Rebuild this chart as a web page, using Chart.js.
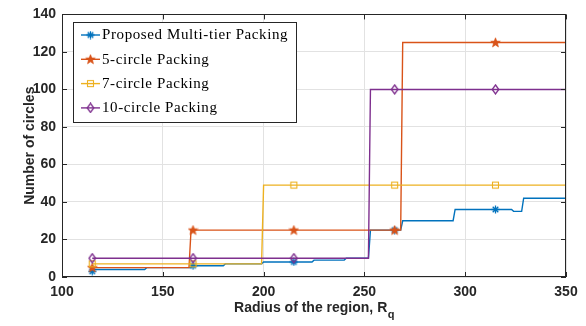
<!DOCTYPE html>
<html><head><meta charset="utf-8">
<script src="https://cdn.jsdelivr.net/npm/chart.js@4"></script>
<style>html,body{margin:0;padding:0;background:#fff}#wrap{width:586px;height:326px;position:relative}</style>
</head><body><div id="wrap"><canvas id="c" width="586" height="326"></canvas></div>
<script>
// ---- data ----
const xTicks = [100, 150, 200, 250, 300, 350];
const yTicks = [0, 20, 40, 60, 80, 100, 120, 140];
const seriesNames = ['Proposed Multi-tier Packing', '5-circle Packing', '7-circle Packing', '10-circle Packing'];
const markerX = [115, 165, 215, 265, 315];

const proposedX = [115, 116, 141, 142, 164, 165, 180, 181, 199, 200, 215, 224, 225, 240, 241, 252, 253, 265, 268, 269, 294, 295, 315, 323, 324, 328, 329, 350];
const proposedY = [3, 4, 4, 5, 5, 6, 6, 7, 7, 8, 8, 8, 9, 9, 10, 10, 25, 25, 25, 30, 30, 36, 36, 36, 35, 35, 42, 42];

const circle5X = [115, 163, 164, 165, 215, 265, 268, 269, 315, 350];
const circle5Y = [5, 5, 25, 25, 25, 25, 25, 125, 125, 125];

const circle7X = [115, 165, 199, 200, 215, 265, 315, 350];
const circle7Y = [7, 7, 7, 49, 49, 49, 49, 49];

const circle10X = [115, 165, 215, 252, 253, 265, 315, 350];
const circle10Y = [10, 10, 10, 10, 100, 100, 100, 100];

const colors = ['#0072BD', '#D95319', '#EDB120', '#7E2F8E'];

// ---- marker glyphs ----
function mk(w, h, draw) { const c = document.createElement('canvas'); c.width = w; c.height = h; const g = c.getContext('2d'); draw(g, w, h); return c; }
const mAst = mk(9, 9, (g) => {
  g.strokeStyle = colors[0]; g.lineWidth = 1.3; g.beginPath();
  g.moveTo(0.5, 4.5); g.lineTo(8.5, 4.5); g.moveTo(4.5, 0.5); g.lineTo(4.5, 8.5);
  g.moveTo(1.7, 1.7); g.lineTo(7.3, 7.3); g.moveTo(7.3, 1.7); g.lineTo(1.7, 7.3); g.stroke();
});
const mStar = mk(11, 11, (g) => {
  g.fillStyle = colors[1]; g.strokeStyle = colors[1]; g.lineWidth = 0.7; g.beginPath();
  for (let i = 0; i < 10; i++) {
    const r = i % 2 ? 2.1 : 5; const a = -Math.PI / 2 + i * Math.PI / 5;
    const px = 5.5 + r * Math.cos(a), py = 5.8 + r * Math.sin(a);
    i ? g.lineTo(px, py) : g.moveTo(px, py);
  }
  g.closePath(); g.fill(); g.stroke();
});
const mSq = mk(9, 9, (g) => { g.strokeStyle = colors[2]; g.lineWidth = 1.1; g.strokeRect(1.5, 1.5, 6, 6); });
const mDia = mk(9, 11, (g) => {
  g.strokeStyle = colors[3]; g.lineWidth = 1.3; g.beginPath();
  g.moveTo(4.5, 1); g.lineTo(7.8, 5.5); g.lineTo(4.5, 10); g.lineTo(1.2, 5.5); g.closePath(); g.stroke();
});
const markers = [mAst, mStar, mSq, mDia];

function pts(xs, ys) { return xs.map((x, i) => ({ x: x, y: ys[i] })); }
const allX = [proposedX, circle5X, circle7X, circle10X];
const allY = [proposedY, circle5Y, circle7Y, circle10Y];

const datasets = seriesNames.map((name, i) => ({
  label: name,
  data: pts(allX[i], allY[i]),
  borderColor: colors[i],
  backgroundColor: colors[i],
  borderWidth: 1.4,
  pointStyle: markers[i],
  pointRadius: (ctx) => (ctx.raw && markerX.includes(ctx.raw.x)) ? 5 : 0,
  pointHoverRadius: 0,
  tension: 0,
  order: 4 - i
}));

const FRAME = '#262626';
const frameAndTicks = {
  id: 'frameAndTicks',
  afterDatasetsDraw(chart) {
    const { ctx, chartArea: a, scales } = chart;
    ctx.save();
    ctx.strokeStyle = FRAME; ctx.lineWidth = 1;
    ctx.strokeRect(Math.round(a.left) + 0.5, Math.round(a.top) + 0.5, Math.round(a.right - a.left) - 1, Math.round(a.bottom - a.top) - 1);
    const L = 5;
    ctx.beginPath();
    xTicks.forEach(v => {
      const x = Math.round(scales.x.getPixelForValue(v)) + 0.5;
      ctx.moveTo(x, a.bottom); ctx.lineTo(x, a.bottom - L);
      ctx.moveTo(x, a.top); ctx.lineTo(x, a.top + L);
    });
    yTicks.forEach(v => {
      const y = Math.round(scales.y.getPixelForValue(v)) + 0.5;
      ctx.moveTo(a.left, y); ctx.lineTo(a.left + L, y);
      ctx.moveTo(a.right, y); ctx.lineTo(a.right - L, y);
    });
    ctx.stroke();
    // axis titles
    ctx.fillStyle = FRAME;
    ctx.font = 'bold 14px "Liberation Sans", Arial, sans-serif';
    ctx.textBaseline = 'alphabetic';
    const main = 'Radius of the region, R';
    const wMain = ctx.measureText(main).width;
    ctx.font = 'bold 11px "Liberation Sans", Arial, sans-serif';
    const wSub = ctx.measureText('q').width;
    const cx = (a.left + a.right) / 2;
    const x0 = cx - (wMain + wSub) / 2;
    ctx.font = 'bold 14px "Liberation Sans", Arial, sans-serif';
    ctx.textAlign = 'left';
    ctx.fillText(main, x0, 312);
    ctx.font = 'bold 11px "Liberation Sans", Arial, sans-serif';
    ctx.fillText('q', x0 + wMain + 0.5, 318);
    ctx.save();
    ctx.translate(34, (a.top + a.bottom) / 2);
    ctx.rotate(-Math.PI / 2);
    ctx.font = 'bold 14px "Liberation Sans", Arial, sans-serif';
    ctx.textAlign = 'center';
    ctx.fillText('Number of circles', 0, 0);
    ctx.restore();
    ctx.restore();
  },
  afterDraw(chart) {
    const ctx = chart.ctx;
    ctx.save();
    const bx = 73.5, by = 22.5, bw = 223, bh = 100;
    ctx.fillStyle = '#fff'; ctx.fillRect(bx, by, bw, bh);
    ctx.strokeStyle = '#262626'; ctx.lineWidth = 1; ctx.strokeRect(bx, by, bw, bh);
    ctx.font = '15px "Liberation Serif", "Times New Roman", serif';
    try { ctx.letterSpacing = '0.6px'; } catch (e) {}
    ctx.textBaseline = 'middle'; ctx.textAlign = 'left';
    chart.data.datasets.forEach((ds, i) => {
      const y = 35 + i * 24.3;
      ctx.strokeStyle = ds.borderColor; ctx.lineWidth = 1.4;
      ctx.beginPath(); ctx.moveTo(81, y); ctx.lineTo(100, y); ctx.stroke();
      const m = markers[i];
      ctx.drawImage(m, 90.5 - m.width / 2, y - m.height / 2);
      ctx.fillStyle = '#000';
      ctx.fillText(ds.label, 102, y + 0.5);
    });
    ctx.restore();
  }
};

const tickFont = { family: '"Liberation Sans", Arial, sans-serif', weight: 'bold', size: 14 };
new Chart(document.getElementById('c'), {
  type: 'line',
  data: { datasets: datasets },
  options: {
    responsive: false,
    animation: false,
    layout: { padding: { top: 12, right: 20, left: 0, bottom: 0 } },
    plugins: { legend: { display: false }, tooltip: { enabled: false } },
    scales: {
      x: {
        type: 'linear', min: 100, max: 350,
        afterBuildTicks: (s) => { s.ticks = xTicks.map(v => ({ value: v })); },
        afterFit: (s) => { s.height = 49; },
        grid: { color: '#e2e2e2', drawTicks: false, lineWidth: 1 },
        border: { display: false },
        ticks: { font: tickFont, color: FRAME, padding: 7, maxRotation: 0, autoSkip: false }
      },
      y: {
        type: 'linear', min: 0, max: 140,
        afterBuildTicks: (s) => { s.ticks = yTicks.map(v => ({ value: v })); },
        afterFit: (s) => { s.width = 62; },
        grid: { color: '#e2e2e2', drawTicks: false, lineWidth: 1 },
        border: { display: false },
        ticks: { font: tickFont, color: FRAME, padding: 6, autoSkip: false }
      }
    }
  },
  plugins: [frameAndTicks]
});
</script>
</body></html>
